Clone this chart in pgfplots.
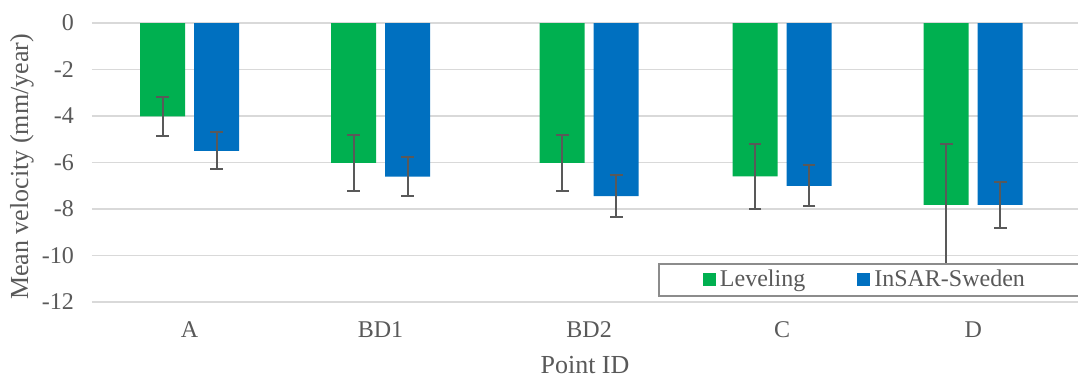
\documentclass[border=0pt]{standalone}
\usepackage{pgfplots}
\pgfplotsset{compat=1.18}
\usepackage{pgfplotstable}
\usepackage{fontspec}
\setmainfont{Liberation Serif}
\definecolor{lev}{HTML}{00B050}
\definecolor{ins}{HTML}{0070C0}
\definecolor{txt}{HTML}{595959}
\definecolor{grd}{HTML}{D9D9D9}
\definecolor{errc}{HTML}{595959}
\definecolor{legframe}{HTML}{8C8C8C}
\pgfplotstableread{
x lev levE ins insE
0     -4.02 0.84 -5.50 0.80
0.973 -6.02 1.20 -6.61 0.84
2.036 -6.02 1.20 -7.45 0.90
3.019 -6.60 1.39 -7.00 0.88
3.993 -7.82 2.60 -7.82 1.00
}\data
\begin{document}
\begin{tikzpicture}
\begin{axis}[
  at={(0,0)}, anchor=south west,
  scale only axis, width=493pt, height=139.5pt,
  xmin=-0.497, xmax=4.527, ymin=-12, ymax=0,
  ybar=4.5pt, bar width=22.5pt,
  axis line style={draw=none},
  major tick length=0pt,
  ymajorgrids=true,
  grid style={grd, line width=0.8pt},
  xtick={0,0.973,2.036,3.019,3.993},
  xticklabels={A,BD1,BD2,C,D},
  ytick={-12,-10,-8,-6,-4,-2,0},
  yticklabels={-12,-10,-8,-6,-4,-2,0},
  tick label style={font=\fontsize{12}{14}\selectfont, text=txt},
  yticklabel style={anchor=east, xshift=-5.5pt},
  xticklabel style={anchor=north, yshift=-6.5pt},
  xlabel={Point ID},
  ylabel={Mean velocity (mm/year)},
  every axis x label/.style={at={(axis description cs:0.5,0)}, anchor=center, yshift=-31.5pt, font=\fontsize{13}{15}\selectfont, text=txt},
  every axis y label/.style={at={(axis description cs:0,0.484)}, anchor=center, rotate=90, yshift=35pt, font=\fontsize{13}{15}\selectfont, text=txt},
  legend columns=2,
  legend style={at={(rel axis cs:0.574,0.019)}, anchor=south west,
    draw=legframe, line width=1pt, fill=white,
    font=\fontsize{12}{14}\selectfont, text=txt,
    inner xsep=22pt, inner ysep=1pt,
    /tikz/every even column/.append style={column sep=24pt}},
  legend image code/.code={\fill[#1] (0pt,-3.25pt) rectangle (6.5pt,3.25pt);},
]
\addplot[fill=lev, draw=none,
  error bars/.cd, y dir=both, y explicit,
  error bar style={draw=errc, line width=1pt},
  error mark options={draw=errc, line width=1pt, mark size=3.2pt, rotate=90}]
  table[x=x, y=lev, y error=levE] {\data};
\addlegendentry{Leveling}
\addplot[fill=ins, draw=none,
  error bars/.cd, y dir=both, y explicit,
  error bar style={draw=errc, line width=1pt},
  error mark options={draw=errc, line width=1pt, mark size=3.2pt, rotate=90}]
  table[x=x, y=ins, y error=insE] {\data};
\addlegendentry{InSAR-Sweden\rule{30pt}{0pt}}
\end{axis}
\pgfresetboundingbox
\path[use as bounding box] (-46pt,-37pt) rectangle (493pt,151pt);
\end{tikzpicture}
\end{document}
